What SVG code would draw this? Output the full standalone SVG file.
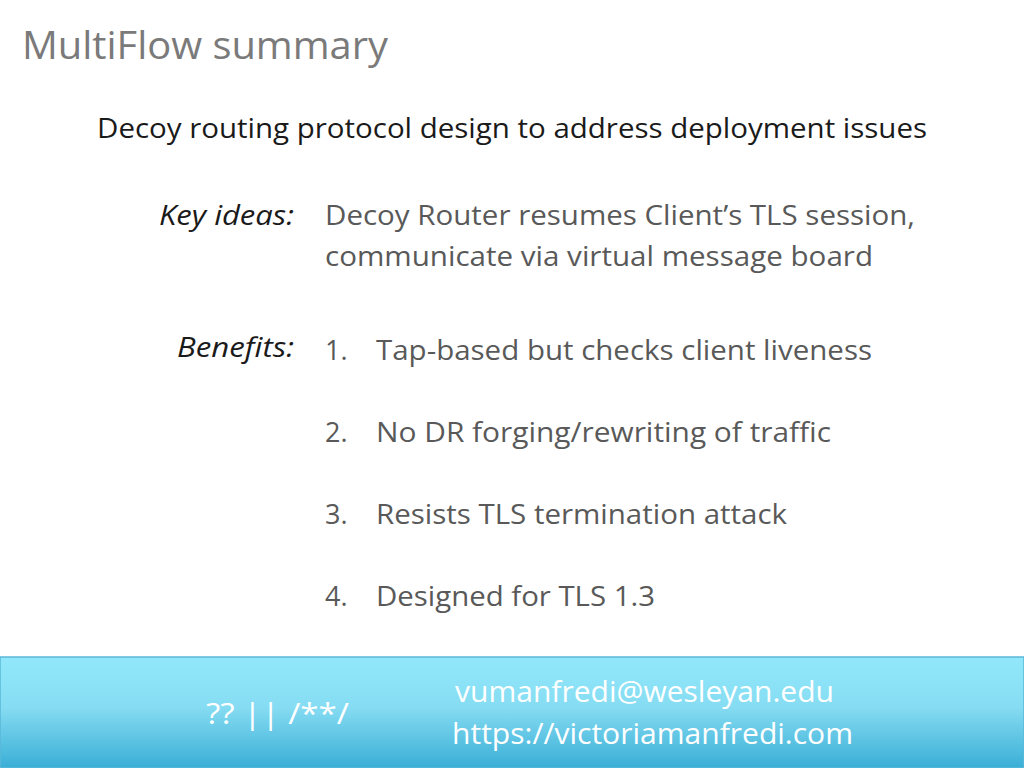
<svg xmlns="http://www.w3.org/2000/svg" width="1024" height="768" viewBox="0 0 1024 768">
<defs>
<linearGradient id="ft" x1="0" y1="0" x2="0" y2="1">
<stop offset="0" stop-color="#92e8fa"/><stop offset="0.45" stop-color="#86dcf2"/><stop offset="1" stop-color="#3aaed6"/>
</linearGradient>
</defs>
<style>
text{font-family:"Open Sans","Noto Sans","Liberation Sans",sans-serif}
.t{font-size:38px;fill:#7a7a7a}
.h{font-size:27px;fill:#1a1a1a}
.l{font-size:27px;fill:#1a1a1a;font-style:italic}
.b{font-size:27px;fill:#595959}
.f{font-size:29px;fill:#ffffff}
</style>
<rect width="1024" height="768" fill="#ffffff"/>
<g id="title"><text class="t" x="22" y="59" textLength="366" lengthAdjust="spacingAndGlyphs">MultiFlow summary</text></g>
<g id="heading"><text class="h" x="97" y="138" textLength="830" lengthAdjust="spacingAndGlyphs">Decoy routing protocol design to address deployment issues</text></g>
<g id="keyideas">
<text class="l" x="294" y="225" text-anchor="end" textLength="135" lengthAdjust="spacingAndGlyphs">Key ideas:</text>
<text class="b" x="325" y="225" textLength="590" lengthAdjust="spacingAndGlyphs">Decoy Router resumes Client’s TLS session,</text>
<text class="b" x="325" y="266" textLength="548" lengthAdjust="spacingAndGlyphs">communicate via virtual message board</text>
</g>
<g id="benefits">
<text class="l" x="294" y="357" text-anchor="end" textLength="117" lengthAdjust="spacingAndGlyphs">Benefits:</text>
<text class="b" x="325" y="360">1.</text><text class="b" x="376" y="360" textLength="496" lengthAdjust="spacingAndGlyphs">Tap-based but checks client liveness</text>
<text class="b" x="325" y="442">2.</text><text class="b" x="376" y="442" textLength="455" lengthAdjust="spacingAndGlyphs">No DR forging/rewriting of traffic</text>
<text class="b" x="325" y="524">3.</text><text class="b" x="376" y="524" textLength="411" lengthAdjust="spacingAndGlyphs">Resists TLS termination attack</text>
<text class="b" x="325" y="606">4.</text><text class="b" x="376" y="606" textLength="279" lengthAdjust="spacingAndGlyphs">Designed for TLS 1.3</text>
</g>
<g id="footer">
<rect x="0" y="657" width="1024" height="111" fill="url(#ft)" stroke="#5ab8d8" stroke-width="1.5"/>
<text class="f" x="206" y="724" textLength="143" lengthAdjust="spacingAndGlyphs">?? || /**/</text>
<text class="f" x="455" y="702" textLength="379" lengthAdjust="spacingAndGlyphs">vumanfredi@wesleyan.edu</text>
<text class="f" x="452" y="744" textLength="401" lengthAdjust="spacingAndGlyphs">https://victoriamanfredi.com</text>
</g>
</svg>
